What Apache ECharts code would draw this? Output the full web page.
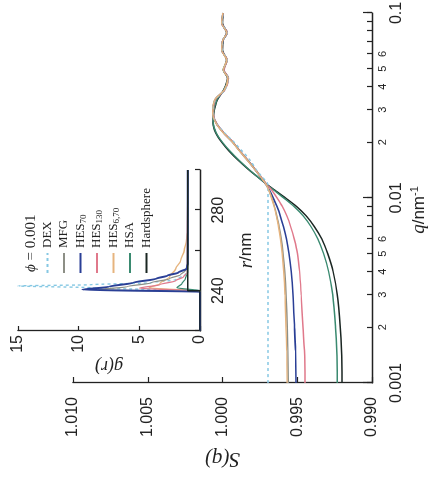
<!DOCTYPE html>
<html>
<head>
<meta charset="utf-8">
<script src="https://cdn.jsdelivr.net/npm/echarts@6/dist/echarts.min.js"></script>
<style>
html, body { margin: 0; padding: 0; background: #fff; overflow: hidden; width: 435px; height: 482px; }
/* the figure is printed sideways: draw it upright, then turn it a quarter left */
#wrap { position: absolute; left: 0; top: 0; width: 482px; height: 435px;
        transform-origin: 0 0; transform: translate(0, 482px) rotate(-90deg); }
</style>
</head>
<body>
<div id="wrap"></div>
<script>
// main plot: S(q) against q
const qVals = [0.001, 0.0015, 0.002, 0.003, 0.004, 0.005, 0.006, 0.007, 0.008, 0.009, 0.010, 0.011, 0.0118,
  0.013, 0.014, 0.016, 0.018, 0.020, 0.0225, 0.0254, 0.0288, 0.0339, 0.0384, 0.0445, 0.0492, 0.0557,
  0.0631, 0.0715, 0.0780, 0.0883, 0.1]
const sDex = [0.99696, 0.99696, 0.99696, 0.99696, 0.99696, 0.99696, 0.99696, 0.99696, 0.99696, 0.99696, 0.99696, 0.99696, 0.99696,
  0.99735, 0.99768, 0.99815, 0.99870, 0.99922, 0.99987, 1.00042, 1.00065, 1.00050, 0.99984, 0.99962, 0.99995, 0.99970,
  1.00003, 0.99997, 0.99970, 1.00003, 0.99997]
const sMfg = [0.99560, 0.99563, 0.99567, 0.99575, 0.99584, 0.99595, 0.99607, 0.99621, 0.99637, 0.99653, 0.99670, 0.99689, 0.99706,
  0.99744, 0.99774, 0.99832, 0.99886, 0.99931, 0.99993, 1.00043, 1.00065, 1.00051, 0.99987, 0.99963, 0.99995, 0.99971,
  1.00005, 0.99997, 0.99971, 1.00005, 0.99997]
const sHes70 = [0.99508, 0.99512, 0.99518, 0.99528, 0.99540, 0.99555, 0.99572, 0.99592, 0.99613, 0.99636, 0.99660, 0.99686, 0.99708,
  0.99745, 0.99775, 0.99832, 0.99886, 0.99930, 0.99992, 1.00042, 1.00064, 1.00050, 0.99986, 0.99962, 0.99993, 0.99970,
  1.00004, 0.99996, 0.99970, 1.00004, 0.99996]
const sHes130 = [0.99448, 0.99452, 0.99462, 0.99474, 0.99484, 0.99498, 0.99520, 0.99544, 0.99570, 0.99600, 0.99635, 0.99670, 0.99702,
  0.99742, 0.99772, 0.99830, 0.99885, 0.99928, 0.99990, 1.00040, 1.00062, 1.00048, 0.99985, 0.99960, 0.99990, 0.99968,
  1.00005, 0.99998, 0.99968, 1.00005, 0.99995]
const sHes670 = [0.99568, 0.99571, 0.99575, 0.99582, 0.99590, 0.99600, 0.99612, 0.99625, 0.99640, 0.99655, 0.99672, 0.99690, 0.99708,
  0.99746, 0.99776, 0.99834, 0.99888, 0.99933, 0.99995, 1.00044, 1.00066, 1.00052, 0.99988, 0.99964, 0.99996, 0.99972,
  1.00006, 0.99998, 0.99972, 1.00006, 0.99998]
const sHsa = [0.99232, 0.99236, 0.99244, 0.99263, 0.99290, 0.99324, 0.99362, 0.99408, 0.99460, 0.99522, 0.99590, 0.99655, 0.99703,
  0.99764, 0.99812, 0.99890, 0.99952, 1.00000, 1.00042, 1.00062, 1.00060, 1.00038, 0.99990, 0.99963, 0.99995, 0.99970,
  1.00003, 0.99997, 0.99970, 1.00003, 0.99995]
const sHard = [0.99200, 0.99204, 0.99212, 0.99232, 0.99260, 0.99296, 0.99335, 0.99385, 0.99440, 0.99505, 0.99578, 0.99648, 0.99700,
  0.99765, 0.99815, 0.99895, 0.99958, 1.00005, 1.00045, 1.00063, 1.00058, 1.00035, 0.99992, 0.99966, 0.99992, 0.99973,
  1.00000, 0.99995, 0.99973, 1.00000, 0.99997]

// inset: g(r) against r
const rDex = [220, 240, 241.5, 242.4, 243, 244, 245.5, 248, 252, 300]
const gDex = [0, 0, 9, 15, 9, 4, 2, 1.2, 1, 1]
const rMfg = [220, 239.6, 240.5, 242, 244, 246, 248, 250, 253, 300]
const gMfg = [0, 0, 8.5, 6, 4, 2.5, 1.6, 1.2, 1.02, 1]
const rHes70 = [220, 239.5, 240.5, 242, 244, 246, 247.5, 249, 251, 254, 300]
const gHes70 = [0, 0, 9.7, 7.5, 5.5, 3.6, 2.7, 1.8, 1.1, 1.0, 1]
const rHes130 = [220, 239.8, 241.3, 243, 245, 247, 249, 300]
const gHes130 = [0, 0, 5, 3.3, 2.0, 1.35, 1.05, 1]
const rHes670 = [220, 239.8, 241.5, 243.5, 247, 251, 255, 260, 265, 270, 300]
const gHes670 = [0, 0, 4.2, 3.3, 2.5, 2.0, 1.6, 1.3, 1.12, 1.03, 1]
const rHsa = [220, 240, 241.5, 243.5, 246, 249, 300]
const gHsa = [0, 0, 1.9, 1.5, 1.2, 1.03, 1]
const rHard = [220, 240, 240, 300]
const gHard = [0, 0, 1, 1]

// tick labels
const qTickVals = [0.001, 0.002, 0.003, 0.004, 0.005, 0.006, 0.007, 0.008, 0.009,
  0.01, 0.02, 0.03, 0.04, 0.05, 0.06, 0.07, 0.08, 0.09, 0.1]
const qDecades = [0.001, 0.01, 0.1]
const qLabelVals = [0.001, 0.002, 0.003, 0.004, 0.005, 0.006, 0.01, 0.02, 0.03, 0.04, 0.05, 0.06, 0.1]
const qLabelText = ['0.001', '2', '3', '4', '5', '6', '0.01', '2', '3', '4', '5', '6', '0.1']
const rLabelVals = [240, 280]

const names = ['DEX', 'MFG', 'HES70', 'HES130', 'HES6,70', 'HSA', 'Hardsphere']
const legendText = {
  'DEX': 'DEX', 'MFG': 'MFG', 'HES70': 'HES{s|70}', 'HES130': 'HES{s|130}',
  'HES6,70': 'HES{s|6,70}', 'HSA': 'HSA', 'Hardsphere': 'Hardsphere'
}
const colors = {
  'DEX': '#86c8e3', 'MFG': '#8d8f86', 'HES70': '#2a3f96', 'HES130': '#e0798b',
  'HES6,70': '#e6b47e', 'HSA': '#3a8a70', 'Hardsphere': '#1a2622'
}

const zip = (xs, ys) => xs.map((x, i) => [x, ys[i]])

const ink = '#222'
const sans = 'Liberation Sans'
const serif = 'Liberation Serif'

function mainLine(name, s, extra) {
  return Object.assign({
    name: name,
    type: 'line',
    xAxisIndex: 0,
    yAxisIndex: 0,
    data: zip(qVals, s),
    symbol: 'none',
    smooth: 0.3,
    lineStyle: { color: colors[name], width: 1.4 },
    itemStyle: { color: colors[name] }
  }, extra || {})
}

function insetLine(name, r, g, extra) {
  return Object.assign({
    name: name,
    type: 'line',
    xAxisIndex: 2,
    yAxisIndex: 1,
    data: zip(r, g),
    symbol: 'none',
    smooth: 0.3,
    smoothMonotone: 'x',
    lineStyle: { color: colors[name], width: 1.3 },
    itemStyle: { color: colors[name] }
  }, extra || {})
}

const chart = echarts.init(document.getElementById('wrap'))

chart.setOption({
  animation: false,
  backgroundColor: '#fff',
  title: {
    text: '{i|ϕ} = 0.001',
    left: 210,
    top: 24,
    padding: 0,
    textStyle: {
      fontFamily: serif, fontSize: 15, fontWeight: 'normal', color: ink,
      rich: { i: { fontFamily: serif, fontStyle: 'italic', fontSize: 15, color: ink } }
    }
  },
  legend: {
    data: names,
    orient: 'vertical',
    left: 208,
    top: 40,
    padding: 0,
    itemWidth: 20,
    itemHeight: 10,
    itemGap: 1.5,
    itemStyle: { opacity: 0 },
    formatter: name => legendText[name],
    textStyle: {
      fontFamily: serif, fontSize: 13, color: ink, lineHeight: 15,
      rich: { s: { fontFamily: serif, fontSize: 9, color: ink, lineHeight: 15, verticalAlign: 'bottom', padding: [6, 0, 0, 0] } }
    }
  },
  grid: [
    { left: 99, right: 13, top: 73, bottom: 63, outerBoundsMode: 'none' },
    { left: 151, right: 170, top: 18, bottom: 235, outerBoundsMode: 'none' }
  ],
  xAxis: [
    {
      type: 'log', logBase: 10, gridIndex: 0, min: 0.001, max: 0.1, position: 'bottom',
      axisLine: { onZero: false, lineStyle: { color: ink, width: 1.3 } },
      axisTick: { inside: true, length: 5, customValues: qTickVals, lineStyle: { color: ink, width: 1.2 } },
      splitLine: { show: false },
      minorTick: { show: false },
      axisLabel: {
        customValues: qLabelVals,
        margin: 5,
        color: ink,
        formatter: v => {
          let i = qLabelVals.findIndex(q => Math.abs(Math.log10(q) - Math.log10(v)) < 1e-6)
          if (i < 0) return ''
          const t = qLabelText[i]
          return t.indexOf('.') >= 0 ? '{a|' + t + '}' : '{b|' + t + '}'
        },
        rich: {
          a: { fontFamily: sans, fontSize: 16, color: ink, padding: [12, 0, 0, 0] },
          b: { fontFamily: sans, fontSize: 11, color: ink }
        }
      },
      name: '{i|q}/nm{sup|-1}',
      nameLocation: 'middle',
      nameGap: 30,
      nameTextStyle: {
        fontFamily: sans, fontSize: 17, color: ink, padding: [0, 24, 0, 0],
        rich: {
          i: { fontFamily: serif, fontStyle: 'italic', fontSize: 19, color: ink },
          sup: { fontFamily: sans, fontSize: 11, color: ink, verticalAlign: 'top', padding: [0, 0, 8, 0] }
        }
      }
    },
    {
      // longer ticks at the decades
      type: 'log', logBase: 10, gridIndex: 0, min: 0.001, max: 0.1, position: 'bottom',
      axisLine: { show: false, onZero: false },
      axisTick: { inside: true, length: 9, customValues: qDecades, lineStyle: { color: ink, width: 1.2 } },
      axisLabel: { show: false },
      splitLine: { show: false }
    },
    {
      type: 'value', gridIndex: 1, min: 220, max: 300, interval: 20, position: 'bottom',
      axisLine: { onZero: false, lineStyle: { color: ink, width: 1.3 } },
      axisTick: { inside: true, length: 5, lineStyle: { color: ink, width: 1.2 } },
      splitLine: { show: false },
      axisLabel: {
        margin: 11, color: ink, fontFamily: sans, fontSize: 16,
        formatter: v => rLabelVals.indexOf(v) >= 0 ? String(v) : ''
      },
      name: '{i|r}/nm',
      nameLocation: 'middle',
      nameGap: 37,
      nameTextStyle: {
        fontFamily: sans, fontSize: 17, color: ink,
        rich: { i: { fontFamily: serif, fontStyle: 'italic', fontSize: 19, color: ink } }
      }
    }
  ],
  yAxis: [
    {
      type: 'value', gridIndex: 0, min: 0.990, max: 1.010, interval: 0.005,
      axisLine: { show: true, onZero: false, lineStyle: { color: ink, width: 1.3 } },
      axisTick: { show: true, inside: true, length: 6, lineStyle: { color: ink, width: 1.2 } },
      splitLine: { show: false },
      axisLabel: {
        margin: 14, color: ink, fontFamily: sans, fontSize: 16,
        formatter: v => v.toFixed(3)
      },
      name: 'S(q)',
      nameLocation: 'middle',
      nameRotate: 90,
      nameGap: 62,
      nameTextStyle: { fontFamily: serif, fontStyle: 'italic', fontSize: 21, color: ink }
    },
    {
      type: 'value', gridIndex: 1, min: 0, max: 15, interval: 5,
      axisLine: { show: true, onZero: false, lineStyle: { color: ink, width: 1.3 } },
      axisTick: { show: true, inside: true, length: 5, lineStyle: { color: ink, width: 1.2 } },
      splitLine: { show: false },
      axisLabel: { margin: 4, color: ink, fontFamily: sans, fontSize: 16 },
      name: 'g(r)',
      nameLocation: 'middle',
      nameRotate: 90,
      nameGap: 20,
      nameTextStyle: { fontFamily: serif, fontStyle: 'italic', fontSize: 18, color: ink }
    }
  ],
  series: [
    mainLine('Hardsphere', sHard, { lineStyle: { color: colors['Hardsphere'], width: 1.5 } }),
    mainLine('HSA', sHsa),
    mainLine('HES70', sHes70, { lineStyle: { color: colors['HES70'], width: 1.6 } }),
    mainLine('HES130', sHes130),
    mainLine('MFG', sMfg),
    mainLine('DEX', sDex, { lineStyle: { color: colors['DEX'], width: 1.4, type: [3, 3] } }),
    mainLine('HES6,70', sHes670),

    insetLine('DEX', rDex, gDex, { lineStyle: { color: colors['DEX'], width: 1.4, type: [3, 3] } }),
    insetLine('HES6,70', rHes670, gHes670),
    insetLine('HES130', rHes130, gHes130),
    insetLine('HSA', rHsa, gHsa),
    insetLine('MFG', rMfg, gMfg),
    insetLine('HES70', rHes70, gHes70, { lineStyle: { color: colors['HES70'], width: 2 } }),
    insetLine('Hardsphere', rHard, gHard, { smooth: false, lineStyle: { color: colors['Hardsphere'], width: 1.5 } })
  ]
})
</script>
</body>
</html>
